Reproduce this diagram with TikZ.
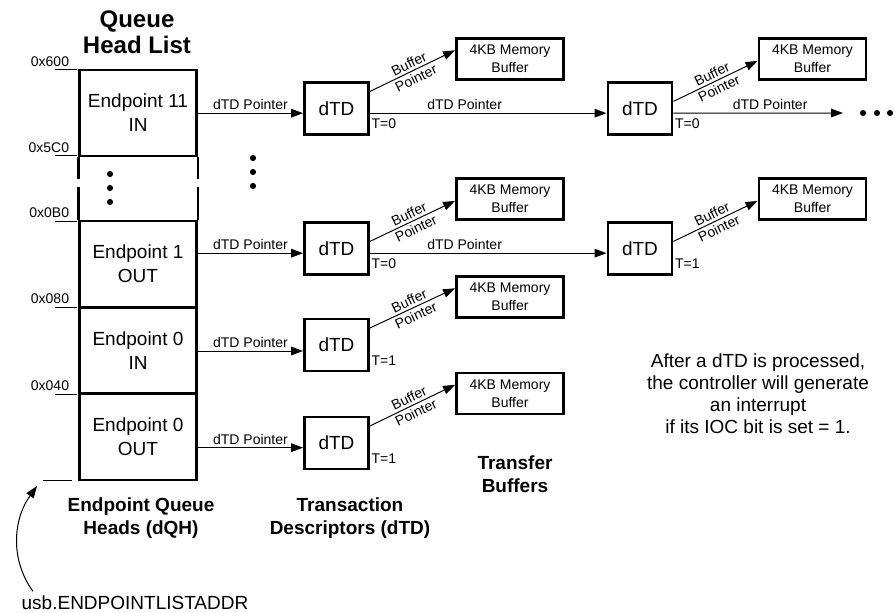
\documentclass[tikz,border=0pt]{standalone}
\usepackage{fontspec}
\setmainfont{Liberation Sans}
\usetikzlibrary{arrows.meta}

\begin{document}
\begin{tikzpicture}[x=0.75pt,y=-0.75pt]

\tikzset{
  qhead/.style={rectangle, draw=black, line width=2.2pt, inner sep=0pt,
                minimum width=87.75pt, minimum height=64.5pt, align=center,
                font=\fontsize{14.25}{18}\selectfont},
  qline/.style={line width=2.2pt},
  dtdbox/.style={rectangle, draw=black, line width=2.2pt, inner sep=0pt,
                minimum width=48pt, minimum height=39pt,
                font=\fontsize{14.25}{17}\selectfont},
  membuf/.style={rectangle, draw=black, line width=2.2pt, inner sep=0pt,
                minimum width=80.25pt, minimum height=30.75pt, align=center,
                font=\fontsize{10.5}{13.5}\selectfont},
  addrlabel/.style={font=\fontsize{10.5}{12}\selectfont, inner sep=2pt, anchor=south east},
  tflag/.style={font=\fontsize{10.5}{12}\selectfont, inner sep=1pt, anchor=west},
  ptr/.style={line width=0.75pt, -{Triangle[length=9pt, width=6.5pt]}},
  ptrlabel/.style={font=\fontsize{10.5}{12}\selectfont, inner sep=2pt},
  bptr/.style={font=\fontsize{10.5}{12}\selectfont, inner sep=1.8pt, sloped},
  heading/.style={font=\fontsize{14.25}{17}\selectfont\bfseries, align=center}
}

\useasboundingbox (0,0) rectangle (895,613);

% Queue head list
\node[font=\fontsize{18}{19.5}\selectfont\bfseries, align=center] (qtitle) at (137,32) {Queue\\Head List};
\node[qhead] (ep11) at (138,113)   {Endpoint 11\\IN};
\node[qhead] (ep1)  at (138,264)   {Endpoint 1\\OUT};
\node[qhead] (ep0i) at (138,350.5) {Endpoint 0\\IN};
\node[qhead] (ep0o) at (138,437)   {Endpoint 0\\OUT};

% broken sides of the skipped entries
\draw[qline] (ep11.south west) -- ++(0,22) (ep1.north west) -- ++(0,-33);
\draw[qline] (ep11.south east) -- ++(0,22) (ep1.north east) -- ++(0,-33);
\foreach \yy in {174,188,202} \fill (110,\yy) circle (2.3pt);

% Addresses
\foreach \yy/\lab in {70/0x600, 156/0x5C0, 221/0x0B0, 307/0x080, 394/0x040}{
  \node[addrlabel] (addr\yy) at (72,\yy) {\lab};
  \draw[line width=0.75pt] (55,\yy) -- (77,\yy);
}
\draw[line width=0.75pt] (43,480) -- (72,480);
\coordinate (listbase) at (37,486);

% dTDs
\node[dtdbox] (dtd11) at (336.5,108.5) {dTD};
\node[dtdbox] (dtd12) at (640,108.5)   {dTD};
\node[dtdbox] (dtd21) at (336.5,248.5) {dTD};
\node[dtdbox] (dtd22) at (640,248.5)   {dTD};
\node[dtdbox] (dtd31) at (336.5,345)   {dTD};
\node[dtdbox] (dtd41) at (336.5,443)   {dTD};
\foreach \yy in {158,172,186} \fill (253,\yy) circle (2.3pt);

% Buffers
\node[membuf] (buf11) at (510,59)    {4KB Memory\\Buffer};
\node[membuf] (buf12) at (812.5,59)  {4KB Memory\\Buffer};
\node[membuf] (buf21) at (510,199)   {4KB Memory\\Buffer};
\node[membuf] (buf22) at (812.5,199) {4KB Memory\\Buffer};
\node[membuf] (buf31) at (510,297)   {4KB Memory\\Buffer};
\node[membuf] (buf41) at (510,393.5) {4KB Memory\\Buffer};

% T bits
\node[tflag] (t11) at ([yshift=-11.5pt]dtd11.east) {T=0};
\node[tflag] (t12) at ([yshift=-11.5pt]dtd12.east) {T=0};
\node[tflag] (t21) at ([yshift=-11.5pt]dtd21.east) {T=0};
\node[tflag] (t22) at ([yshift=-11.5pt]dtd22.east) {T=1};
\node[tflag] (t31) at ([yshift=-11.5pt]dtd31.east) {T=1};
\node[tflag] (t41) at ([yshift=-11.5pt]dtd41.east) {T=1};

% Queue head -> dTD
\draw[ptr] ([yshift=-3.5pt]ep11.east |- dtd11.west) -- node[ptrlabel, above] (p11) {dTD Pointer} ([yshift=-3.5pt]dtd11.west);
\draw[ptr] ([yshift=-3.5pt]ep1.east |- dtd21.west)  -- node[ptrlabel, above] (p21) {dTD Pointer} ([yshift=-3.5pt]dtd21.west);
\draw[ptr] ([yshift=-4.5pt]ep0i.east |- dtd31.west) -- node[ptrlabel, above] (p31) {dTD Pointer} ([yshift=-4.5pt]dtd31.west);
\draw[ptr] ([yshift=-3.5pt]ep0o.east |- dtd41.west) -- node[ptrlabel, above] (p41) {dTD Pointer} ([yshift=-3.5pt]dtd41.west);

% dTD -> next dTD
\coordinate (more) at (843,113);
\draw[ptr] ([yshift=-3.5pt]dtd11.east) -- node[ptrlabel, above, pos=0.4] (p12) {dTD Pointer} ([yshift=-3.5pt]dtd12.west);
\draw[ptr] ([yshift=-3.5pt]dtd12.east) -- node[ptrlabel, above, pos=0.57] (p13) {dTD Pointer} (more);
\draw[ptr] ([yshift=-3.5pt]dtd21.east) -- node[ptrlabel, above, pos=0.4] (p22) {dTD Pointer} ([yshift=-3.5pt]dtd22.west);
\foreach \xx in {863,877,890} \fill (\xx,113) circle (2.3pt);

% dTD -> buffer
\draw[ptr] (dtd11.27) -- node[bptr, above] (b11a) {Buffer} node[bptr, below] (b11b) {Pointer} (buf11.171);
\draw[ptr] (dtd12.12) -- node[bptr, above] (b12a) {Buffer} node[bptr, below] (b12b) {Pointer} (buf12.182);
\draw[ptr] (dtd21.12) -- node[bptr, above] (b21a) {Buffer} node[bptr, below] (b21b) {Pointer} (buf21.182);
\draw[ptr] (dtd22.12) -- node[bptr, above] (b22a) {Buffer} node[bptr, below] (b22b) {Pointer} (buf22.182);
\draw[ptr] (dtd31.27) -- node[bptr, above] (b31a) {Buffer} node[bptr, below] (b31b) {Pointer} (buf31.171);
\draw[ptr] (dtd41.27) -- node[bptr, above] (b41a) {Buffer} node[bptr, below] (b41b) {Pointer} (buf41.171);

% Column headings
\node[heading] (dqhlabel) at (141,518) {Endpoint Queue\\Heads (dQH)};
\node[heading] (dtdlabel) at (350,518) {Transaction\\Descriptors (dTD)};
\node[heading] (buflabel) at (515,474) {Transfer\\Buffers};

% Note
\node[font=\fontsize{14.25}{16.5}\selectfont, align=center] (iocnote) at (758,394)
  {After a dTD is processed,\\the controller will generate\\an interrupt\\if its IOC bit is set = 1.};

% List address
\node[font=\fontsize{14.25}{17}\selectfont] (usbaddr) at (135,603) {usb.ENDPOINTLISTADDR};
\draw[ptr] ([xshift=12pt]usbaddr.north west) .. controls +(-22,-30) and +(-25,35) .. (listbase);

\end{tikzpicture}
\end{document}
